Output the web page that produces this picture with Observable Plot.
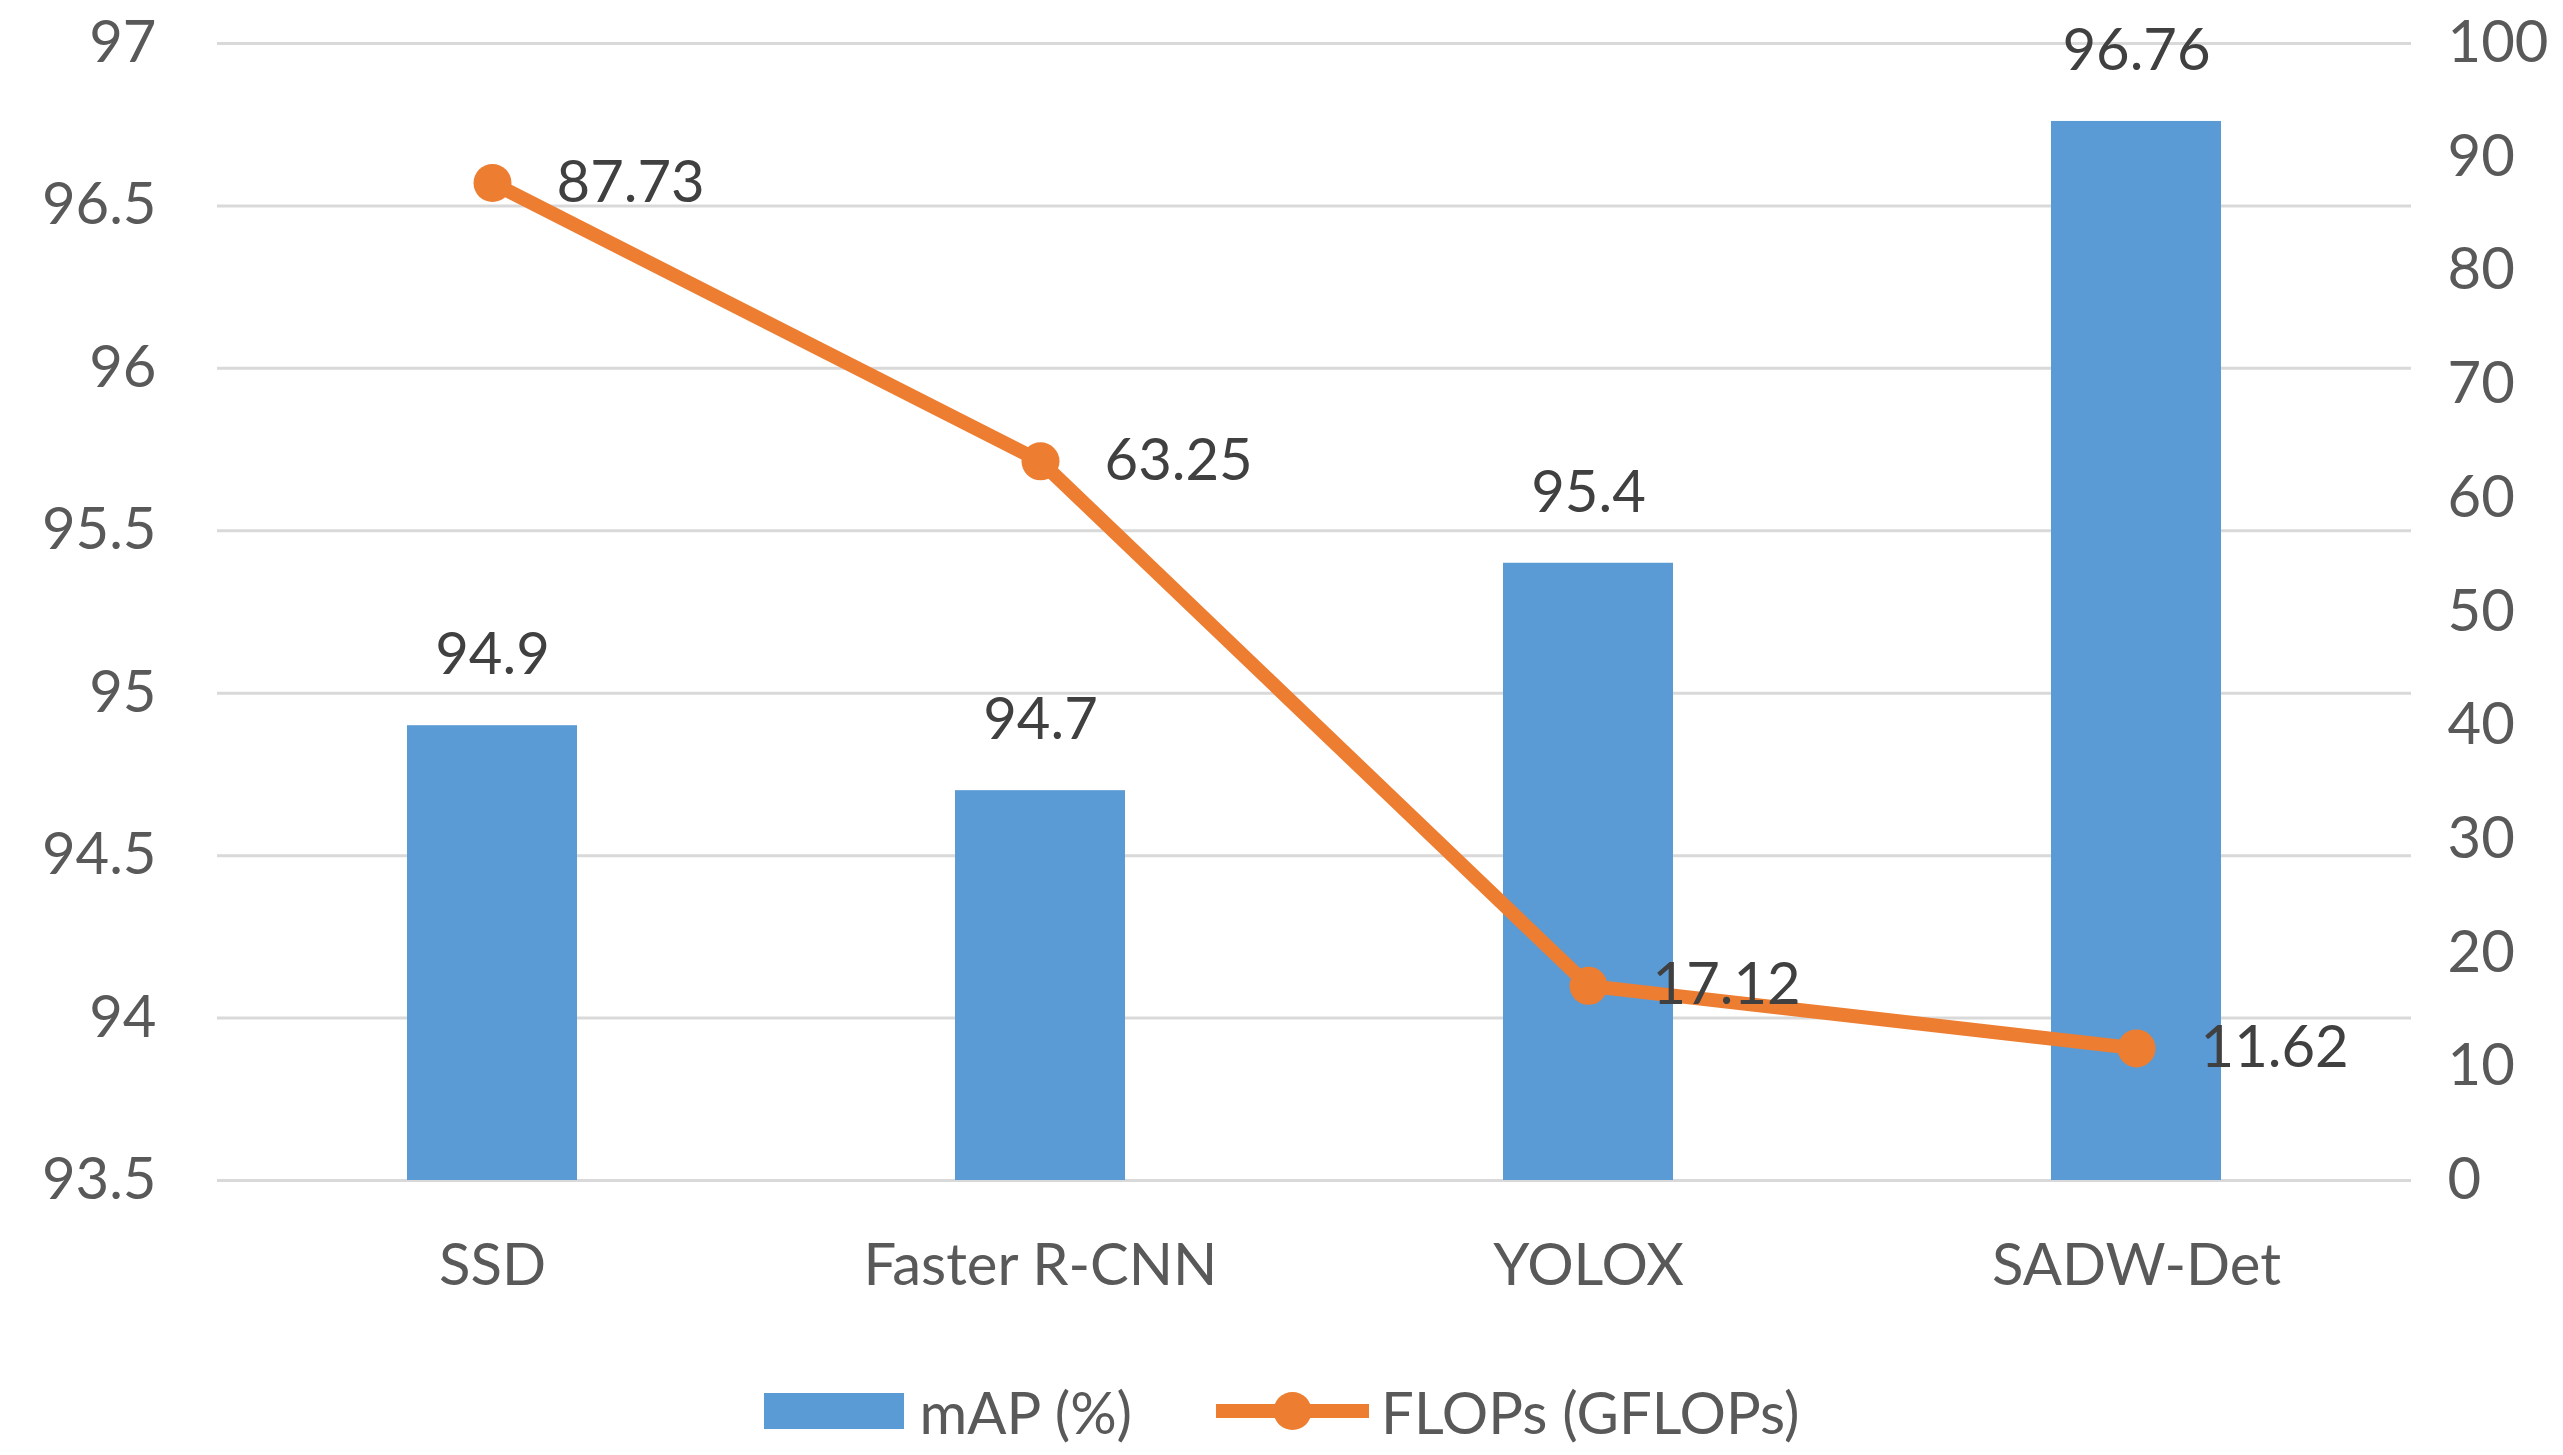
<!DOCTYPE html>
<html><head><meta charset="utf-8">
<script src="https://cdn.jsdelivr.net/npm/d3@7"></script>
<script src="https://cdn.jsdelivr.net/npm/@observablehq/plot@0.6"></script>
<style>
html,body{margin:0;padding:0;background:#fff;}
#wrap{position:relative;width:2563px;height:1455px;overflow:hidden;font-family:Lato,sans-serif;}
#wrap svg.plot{position:absolute;left:0;top:0;overflow:visible}
#legend{position:absolute;left:0;top:1376px;width:2563px;height:70px;display:flex;justify-content:center;align-items:center;font-size:58px;color:#595959;font-family:Lato,sans-serif;}
#legend .item{display:flex;align-items:center;}
</style></head>
<body><div id="wrap"></div>
<script>
const models = ["SSD", "Faster R-CNN", "YOLOX", "SADW-Det"];
const mAP = [94.9, 94.7, 95.4, 96.76];
const flops = [87.73, 63.25, 17.12, 11.62];
const mapTicks = [93.5, 94, 94.5, 95, 95.5, 96, 96.5, 97];
const flopTicks = [0, 10, 20, 30, 40, 50, 60, 70, 80, 90, 100];
const mapBase = 93.5;
const seriesNames = ["mAP (%)", "FLOPs (GFLOPs)"];
const colors = ["#5b9bd5", "#ed7d31"];

const data = models.map((m, i) => ({model: m, map: mAP[i], flops: flops[i]}));

const FS = 58;
const common = {
  width: 2563, height: 1330,
  marginLeft: 217, marginRight: 152, marginTop: 43, marginBottom: 150,
  style: {fontFamily: "Lato, sans-serif", fontSize: FS + "px", color: "#595959", background: "transparent", overflow: "visible"}
};

const wrap = document.getElementById("wrap");

const p1 = Plot.plot({
  ...common,
  x: {domain: models, type: "band", paddingInner: 0.69, paddingOuter: 0.345, label: null},
  y: {domain: [mapTicks[0], mapTicks[mapTicks.length - 1]], label: null},
  marks: [
    Plot.gridY(mapTicks, {stroke: "#d9d9d9", strokeWidth: 3, strokeOpacity: 1}),
    Plot.barY(data, {x: "model", y1: () => mapBase, y2: "map", fill: colors[0]}),
    Plot.text(data, {x: "model", y: "map", text: d => String(d.map), dy: -70, fill: "#404040", fontSize: FS}),
    Plot.axisY(mapTicks, {anchor: "left", tickSize: 0, tickPadding: 61, label: null, fontSize: FS, tickFormat: d => String(d)}),
    Plot.axisX({tickSize: 0, tickPadding: 63, label: null, fontSize: FS})
  ]
});
p1.classList.add("plot");
wrap.appendChild(p1);

const p2 = Plot.plot({
  ...common,
  x: {domain: models, type: "point", padding: 0.5, axis: null},
  y: {domain: [flopTicks[0], flopTicks[flopTicks.length - 1]], axis: null},
  marks: [
    Plot.line(data, {x: "model", y: "flops", stroke: colors[1], strokeWidth: 14}),
    Plot.dot(data, {x: "model", y: "flops", r: 19, fill: colors[1], stroke: "none"}),
    Plot.text(data, {x: "model", y: "flops", text: d => String(d.flops), dx: 64, textAnchor: "start", fill: "#404040", fontSize: FS}),
    Plot.axisY(flopTicks, {anchor: "right", tickSize: 0, tickPadding: 36, label: null, fontSize: FS})
  ]
});
p2.classList.add("plot");
wrap.appendChild(p2);

// Legend
const legend = document.createElement("div");
legend.id = "legend";
legend.innerHTML = `
  <div class="item">
    <svg width="140" height="36" style="margin-right:16px"><rect width="140" height="36" fill="${colors[0]}"/></svg>
    <span>${seriesNames[0]}</span>
  </div>
  <div class="item" style="margin-left:84px">
    <svg width="153" height="40" style="margin-right:12px"><line x1="0" x2="153" y1="20" y2="20" stroke="${colors[1]}" stroke-width="14"/><circle cx="76.5" cy="20" r="19" fill="${colors[1]}"/></svg>
    <span>${seriesNames[1]}</span>
  </div>`;
wrap.appendChild(legend);
</script>
</body></html>
